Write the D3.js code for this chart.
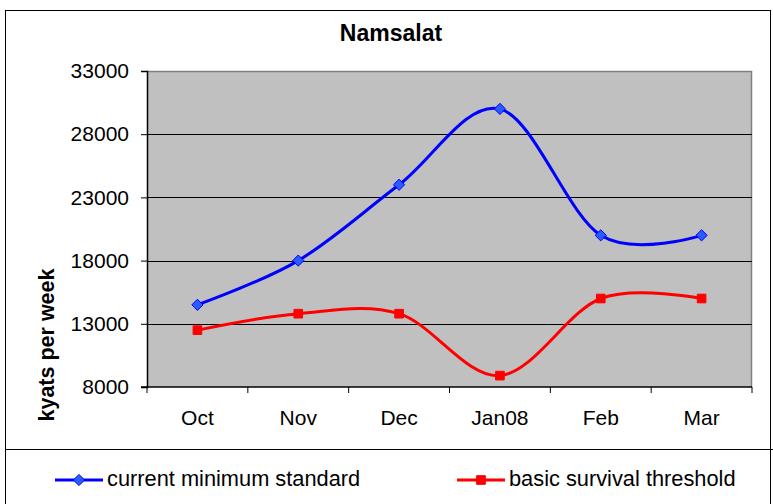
<!DOCTYPE html>
<html>
<head>
<meta charset="utf-8">
<script src="https://cdn.jsdelivr.net/npm/d3@7"></script>
<style>
  body { margin: 0; background: #fff; }
  svg { display: block; font-family: "Liberation Sans", Arial, sans-serif; }
</style>
</head>
<body>
<svg></svg>
<script>
const months = ["Oct", "Nov", "Dec", "Jan08", "Feb", "Mar"]
const currentMinimum = [14500, 18000, 24000, 30000, 20000, 20000]
const survivalThreshold = [12500, 13800, 13800, 8900, 15000, 15000]
const yTicks = [8000, 13000, 18000, 23000, 28000, 33000]

const width = 773, height = 504
const plot = {left: 147, right: 752, top: 71, bottom: 387}

const svg = d3.select("svg")
.attr("width", width)
.attr("height", height)

// chart frame + legend divider
svg.append("rect")
.attr("x", 5.5).attr("y", 10.5)
.attr("width", 765).attr("height", 500)
.attr("fill", "#fff").attr("stroke", "#000").attr("stroke-width", 1)

svg.append("line")
.attr("x1", 5).attr("x2", width).attr("y1", 449.5).attr("y2", 449.5)
.attr("stroke", "#000")

const x = d3.scalePoint()
.domain(months)
.range([plot.left, plot.right])
.padding(0.5)

const y = d3.scaleLinear()
.domain([8000, 33000])
.range([plot.bottom, plot.top])

// plot area
svg.append("rect")
.attr("x", plot.left).attr("y", plot.top)
.attr("width", plot.right - plot.left).attr("height", plot.bottom - plot.top)
.attr("fill", "#c0c0c0")

svg.append("path")
.attr("d", `M${plot.left},${plot.top + 0.5}H${plot.right - 0.5}V${plot.bottom}`)
.attr("fill", "none").attr("stroke", "#808080").attr("stroke-width", 1.5)

// gridlines
svg.append("g")
.selectAll("line")
.data(yTicks.slice(1, -1))
.join("line")
.attr("x1", plot.left).attr("x2", plot.right)
.attr("y1", d => Math.round(y(d)) + 0.5).attr("y2", d => Math.round(y(d)) + 0.5)
.attr("stroke", "#000")

// y axis
const yAxis = svg.append("g")
.attr("transform", `translate(${plot.left},0)`)
.call(d3.axisLeft(y).tickValues(yTicks).tickSize(6).tickPadding(12).tickFormat(d3.format("d")))
yAxis.select(".domain").attr("stroke-width", 1.5)
yAxis.selectAll("text").attr("font-size", 21).attr("fill", "#000")

// x axis with ticks between categories
const step = x.step()
const xAxis = svg.append("g")
.attr("transform", `translate(0,${plot.bottom})`)
xAxis.append("line")
.attr("x1", plot.left - 6).attr("x2", plot.right)
.attr("stroke", "#000").attr("stroke-width", 1.5)
xAxis.selectAll("line.tick")
.data(d3.range(months.length + 1))
.join("line").classed("tick", true)
.attr("x1", i => plot.left + i * step).attr("x2", i => plot.left + i * step)
.attr("y1", 0).attr("y2", 6)
.attr("stroke", "#000")
xAxis.selectAll("text")
.data(months)
.join("text")
.attr("x", d => x(d))
.attr("y", 38)
.attr("text-anchor", "middle")
.attr("font-size", 21)
.text(d => d)

// title
svg.append("text")
.attr("x", 391).attr("y", 41)
.attr("text-anchor", "middle")
.attr("font-size", 23).attr("font-weight", "bold")
.text("Namsalat")

svg.append("text")
.attr("transform", "translate(54,345) rotate(-90)")
.attr("text-anchor", "middle")
.attr("font-size", 21.5).attr("font-weight", "bold")
.text("kyats per week")

// series
const series = [
  {name: "current minimum standard", values: currentMinimum, color: "#0000ff", marker: d3.symbolDiamond2, size: 80, markerFill: "#2a5cff"},
  {name: "basic survival threshold", values: survivalThreshold, color: "#ff0000", marker: d3.symbolSquare2, size: 95, markerFill: "#ff0000"}
]

const line = d3.line()
.x((d, i) => x(months[i]))
.y(d => y(d))
.curve(d3.curveCardinal.tension(0))

series.forEach(s => {
  svg.append("path")
  .datum(s.values)
  .attr("d", line)
  .attr("fill", "none")
  .attr("stroke", s.color)
  .attr("stroke-width", 3)
  .attr("stroke-linejoin", "round")

  svg.append("g")
  .selectAll("path")
  .data(s.values)
  .join("path")
  .attr("transform", (d, i) => `translate(${x(months[i])},${y(d)})`)
  .attr("d", d3.symbol(s.marker, s.size))
  .attr("fill", s.markerFill)
  .attr("stroke", s.color)
  .attr("stroke-width", 1)
})

// legend
const legendX = [55, 457]
const legend = svg.append("g")
.selectAll("g")
.data(series)
.join("g")
.attr("transform", (d, i) => `translate(${legendX[i]},480)`)

legend.append("line")
.attr("x1", 0).attr("x2", 48)
.attr("stroke", d => d.color).attr("stroke-width", 3)
legend.append("path")
.attr("transform", "translate(24,0)")
.attr("d", d => d3.symbol(d.marker, d.size)())
.attr("fill", d => d.markerFill)
.attr("stroke", d => d.color)
legend.append("text")
.attr("x", 52).attr("y", 6)
.attr("font-size", 21.8)
.text(d => d.name)
</script>
</body>
</html>
